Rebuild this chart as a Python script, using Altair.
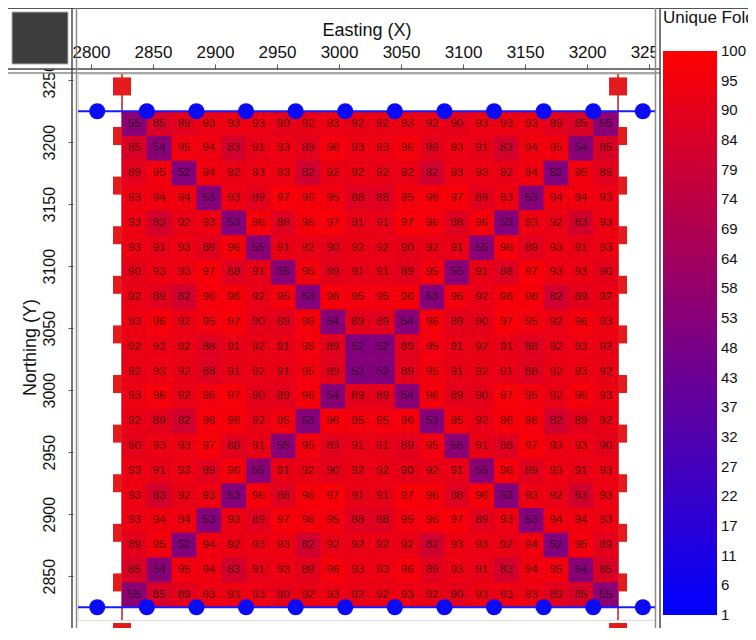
import altair as alt
import pandas as pd

# ---------------- data ----------------
easting_centers = [2835, 2855, 2875, 2895, 2915, 2935, 2955, 2975, 2995, 3015,
                   3035, 3055, 3075, 3095, 3115, 3135, 3155, 3175, 3195, 3215]
northing_centers = [3215, 3195, 3175, 3155, 3135, 3115, 3095, 3075, 3055, 3035,
                    3015, 2995, 2975, 2955, 2935, 2915, 2895, 2875, 2855, 2835]

fold_rows = [
    [55, 85, 89, 93, 93, 93, 90, 92, 93, 92, 92, 93, 92, 90, 93, 93, 93, 89, 85, 55],
    [85, 54, 95, 94, 83, 91, 93, 89, 96, 93, 93, 96, 89, 93, 91, 83, 94, 95, 54, 85],
    [89, 95, 52, 94, 92, 93, 93, 82, 92, 92, 92, 92, 82, 93, 93, 92, 94, 52, 95, 89],
    [93, 94, 94, 53, 93, 89, 97, 96, 95, 88, 88, 95, 96, 97, 89, 93, 53, 94, 94, 93],
    [93, 83, 92, 93, 53, 96, 88, 96, 97, 91, 91, 97, 96, 88, 96, 53, 93, 92, 83, 93],
    [93, 91, 93, 89, 96, 55, 91, 92, 90, 92, 92, 90, 92, 91, 55, 96, 89, 93, 91, 93],
    [90, 93, 93, 97, 88, 91, 55, 95, 89, 91, 91, 89, 95, 55, 91, 88, 97, 93, 93, 90],
    [92, 89, 82, 96, 96, 92, 95, 53, 96, 95, 95, 96, 53, 95, 92, 96, 96, 82, 89, 92],
    [93, 96, 92, 95, 97, 90, 89, 96, 54, 89, 89, 54, 96, 89, 90, 97, 95, 92, 96, 93],
    [92, 93, 92, 88, 91, 92, 91, 95, 89, 52, 52, 89, 95, 91, 92, 91, 88, 92, 93, 92],
    [92, 93, 92, 88, 91, 92, 91, 95, 89, 52, 52, 89, 95, 91, 92, 91, 88, 92, 93, 92],
    [93, 96, 92, 95, 97, 90, 89, 96, 54, 89, 89, 54, 96, 89, 90, 97, 95, 92, 96, 93],
    [92, 89, 82, 96, 96, 92, 95, 53, 96, 95, 95, 96, 53, 95, 92, 96, 96, 82, 89, 92],
    [90, 93, 93, 97, 88, 91, 55, 95, 89, 91, 91, 89, 95, 55, 91, 88, 97, 93, 93, 90],
    [93, 91, 93, 89, 96, 55, 91, 92, 90, 92, 92, 90, 92, 91, 55, 96, 89, 93, 91, 93],
    [93, 83, 92, 93, 53, 96, 88, 96, 97, 91, 91, 97, 96, 88, 96, 53, 93, 92, 83, 93],
    [93, 94, 94, 53, 93, 89, 97, 96, 95, 88, 88, 95, 96, 97, 89, 93, 53, 94, 94, 93],
    [89, 95, 52, 94, 92, 93, 93, 82, 92, 92, 92, 92, 82, 93, 93, 92, 94, 52, 95, 89],
    [85, 54, 95, 94, 83, 91, 93, 89, 96, 93, 93, 96, 89, 93, 91, 83, 94, 95, 54, 85],
    [55, 85, 89, 93, 93, 93, 90, 92, 93, 92, 92, 93, 92, 90, 93, 93, 93, 89, 85, 55],
]

cell_size = 20

# source lines (blue, horizontal) and source stations
source_line_y = [3225, 2825]
source_station_x = [2805, 2845, 2885, 2925, 2965, 3005, 3045, 3085, 3125, 3165, 3205, 3245]

# receiver lines (red, vertical) and receiver stations
receiver_line_x = [2825, 3225]
receiver_station_y = [2805, 2845, 2885, 2925, 2965, 3005, 3045, 3085, 3125, 3165, 3205, 3245]

x_ticks = [2800, 2850, 2900, 2950, 3000, 3050, 3100, 3150, 3200, 3250]
y_ticks = [2850, 2900, 2950, 3000, 3050, 3100, 3150, 3200, 3250]
# colour-bar label positions (evenly spaced stops between 1 and 100, shown rounded)
legend_ticks = [1.001, 6.21, 11.42, 16.63, 21.84, 27.05, 32.26, 37.47, 42.68, 47.89,
                53.11, 58.32, 63.53, 68.74, 73.95, 79.16, 84.37, 89.58, 94.79, 99.999]

x_domain = [2789.5, 3254.8]
y_domain = [2814.7, 3255.0]

# ---------------- tables ----------------
half = cell_size / 2
cells = []
for r, yc in enumerate(northing_centers):
    for c, xc in enumerate(easting_centers):
        cells.append({"x0": xc - half, "x1": xc + half, "y0": yc - half, "y1": yc + half,
                      "x": xc, "y": yc, "fold": fold_rows[r][c]})
cells = pd.DataFrame(cells)

grid_extent = pd.DataFrame({"x0": [min(receiver_line_x)], "x1": [max(receiver_line_x)],
                            "y0": [min(source_line_y)], "y1": [max(source_line_y)]})
src_lines = pd.DataFrame({"y": source_line_y})
src_pts = pd.DataFrame([{"x": sx, "y": sy} for sy in source_line_y for sx in source_station_x])
rec_lines = pd.DataFrame({"x": receiver_line_x})
rec_pts = pd.DataFrame([{"x": rx, "y": ry} for rx in receiver_line_x for ry in receiver_station_y])
dummy = pd.DataFrame({"d": [0]})

# ---------------- layout ----------------
W, H = 577, 546
FONT = "Liberation Sans"

xs = alt.Scale(domain=x_domain, nice=False, zero=False)
ys = alt.Scale(domain=y_domain, nice=False, zero=False)

xaxis = alt.Axis(orient="top", values=x_ticks, title="Easting (X)", grid=False, domain=False,
                 offset=5, tickSize=5, tickColor="#555555", labelPadding=3, labelFontSize=17,
                 titleFontSize=18, titleFontWeight="normal", titlePadding=4, labelFlush=False,
                 labelOverlap=False, labelColor="#111111", titleColor="#111111", format="d",
                 labelFont=FONT, titleFont=FONT, zindex=0)
yaxis = alt.Axis(orient="left", values=y_ticks, title="Northing (Y)", grid=False, domain=False,
                 offset=5, tickSize=5, tickColor="#555555", labelPadding=11, labelFontSize=16,
                 labelAngle=270, labelAlign="center", labelBaseline="bottom",
                 titleFontSize=18, titleFontWeight="normal", titlePadding=2, labelFlush=False,
                 labelOverlap=False, labelColor="#111111", titleColor="#111111", format="d",
                 labelFont=FONT, titleFont=FONT, zindex=0)

X = lambda f: alt.X(f, type="quantitative", scale=xs, axis=xaxis)
Y = lambda f: alt.Y(f, type="quantitative", scale=ys, axis=yaxis)

fold_scale = alt.Scale(domain=[1, 100], range=["#0000ff", "#ff0000"], interpolate="rgb")

rec_line_layer = alt.Chart(rec_lines).mark_rule(color="#b02020", strokeWidth=1.5).encode(
    x=X("x"), y=alt.value(0), y2=alt.value(H))
rec_pt_layer = alt.Chart(rec_pts).mark_square(size=324, color="#e41b1c", opacity=1).encode(
    x=X("x"), y=Y("y"))

# solid backing under the cells so anti-aliasing seams do not show white
backing = alt.Chart(grid_extent).mark_rect(color="#ec0014").encode(
    x=X("x0"), x2="x1", y=Y("y0"), y2="y1")

heat = alt.Chart(cells).mark_rect().encode(
    x=X("x0"), x2="x1", y=Y("y0"), y2="y1",
    color=alt.Color("fold:Q", scale=fold_scale,
                    legend=alt.Legend(title="Unique Fold", type="gradient", orient="none",
                                      legendX=585, legendY=-64, format=".0f",
                                      direction="vertical", gradientLength=564, gradientThickness=54,
                                      values=legend_ticks, labelFontSize=15, titleFontSize=17,
                                      titleFontWeight="normal", titlePadding=24, labelOffset=4,
                                      labelOverlap=False, gradientStrokeWidth=0, padding=0,
                                      labelBaseline="middle", labelFont=FONT, titleFont=FONT,
                                      labelColor="#111111", titleColor="#111111", titleLimit=300)),
)

labels = alt.Chart(cells).mark_text(fontSize=11.5, font=FONT, color="#000000", opacity=0.62).encode(
    x=X("x"), y=Y("y"), text=alt.Text("fold:Q"))

src_line_layer = alt.Chart(src_lines).mark_rule(color="#1a1aff", strokeWidth=2).encode(
    y=Y("y"), x=alt.value(0), x2=alt.value(W))
src_pt_layer = alt.Chart(src_pts).mark_circle(size=260, color="#0a0af5", opacity=1).encode(
    x=X("x"), y=Y("y"))


def box(x0, x1, y0, y1, fill, stroke=None, sw=0):
    kw = {"fill": fill, "strokeWidth": sw}
    if stroke:
        kw["stroke"] = stroke
    return alt.Chart(dummy).mark_rect(**kw).encode(
        x=alt.value(x0), x2=alt.value(x1), y=alt.value(y0), y2=alt.value(y1))


def hline(y, x0, x1, color, sw):
    return alt.Chart(dummy).mark_rule(color=color, strokeWidth=sw).encode(
        y=alt.value(y), x=alt.value(x0), x2=alt.value(x1))


def vline(x, y0, y1, color, sw):
    return alt.Chart(dummy).mark_rule(color=color, strokeWidth=sw).encode(
        x=alt.value(x), y=alt.value(y0), y2=alt.value(y1))


deco = [
    box(-70, -6, -66, -5, "white"),
    box(577, 680, -66, 560, "white"),
    box(-66, -10, -62, -10, "#3d3d3d", "#b0b0b0", 1),
    hline(-65.5, -70, 680, "#555555", 1.2),
    hline(-5, -70, 582, "#4a4a4a", 1.5),
    hline(-1, -70, 582, "#8a8a8a", 1.5),
    vline(-6, -66, 560, "#4a4a4a", 1.5),
    vline(-1.5, -66, 560, "#8a8a8a", 1.5),
    vline(577.5, -66, 560, "#8a8a8a", 1.5),
    vline(582, -66, 560, "#4a4a4a", 1.5),
]

chart = alt.layer(rec_line_layer, rec_pt_layer, backing, heat, labels, src_line_layer, src_pt_layer,
                  *deco).properties(
    width=W, height=H,
    autosize=alt.AutoSizeParams(type="none"),
    padding={"left": 70, "top": 66, "right": 93, "bottom": 8},
).configure_view(strokeWidth=0).configure(font=FONT, background="white")

chart.save("out.html", embed_options={"renderer": "svg", "actions": False})
